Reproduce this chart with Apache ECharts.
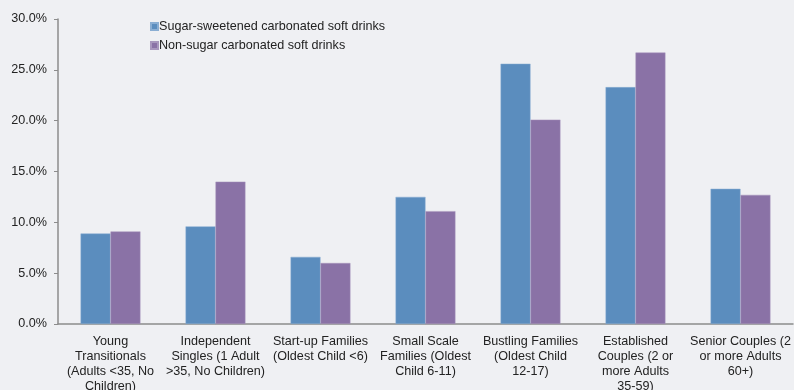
<!DOCTYPE html>
<html><head><meta charset="utf-8">
<script src="https://cdn.jsdelivr.net/npm/echarts@6/dist/echarts.min.js"></script>
<style>html,body{margin:0;padding:0;background:#eff0f3;}#c{width:794px;height:390px;}</style>
</head><body><div id="c"></div>
<script>
var categories = [
  "Young\nTransitionals\n(Adults <35, No\nChildren)",
  "Independent\nSingles (1 Adult\n>35, No Children)",
  "Start-up Families\n(Oldest Child <6)",
  "Small Scale\nFamilies (Oldest\nChild 6-11)",
  "Bustling Families\n(Oldest Child\n12-17)",
  "Established\nCouples (2 or\nmore Adults\n35-59)",
  "Senior Couples (2\nor more Adults\n60+)"
];
var seriesNames = ["Sugar-sweetened carbonated soft drinks", "Non-sugar carbonated soft drinks"];
var sugarValues = [8.9, 9.6, 6.6, 12.5, 25.6, 23.3, 13.3];
var nonSugarValues = [9.1, 14.0, 6.0, 11.1, 20.1, 26.7, 12.7];
var yTicks = [0, 5, 10, 15, 20, 25, 30];

var chart = echarts.init(document.getElementById('c'));
var font = 'Liberation Sans, Arial, sans-serif';
chart.setOption({
  backgroundColor: '#eff0f3',
  animation: false,
  textStyle: {fontFamily: font},
  legend: {
    orient: 'vertical', left: 145, top: 15, itemGap: 6,
    itemWidth: 7, itemHeight: 7, icon: 'rect',
    textStyle: {fontSize: 12.6, color: '#222', fontFamily: font, padding: [0,0,0,-4]},
    data: seriesNames
  },
  grid: {left: 58, right: 1, top: 19, bottom: 66, containLabel: false, outerBoundsMode: 'none'},
  xAxis: {
    type: 'category', data: categories,
    axisLine: {lineStyle: {color: '#8c8c8c', width: 1.5}},
    axisTick: {alignWithLabel: false, length: 4, lineStyle: {color: '#8c8c8c'}},
    axisLabel: {interval: 0, color: '#222', fontSize: 12.6, lineHeight: 15, margin: 10, fontFamily: font}
  },
  yAxis: {
    type: 'value', min: yTicks[0], max: yTicks[yTicks.length-1], interval: 5,
    axisLine: {show: true, lineStyle: {color: '#8c8c8c', width: 1.5}},
    axisTick: {show: true, length: 4, lineStyle: {color: '#8c8c8c'}},
    splitLine: {show: false},
    axisLabel: {color: '#222', fontSize: 12.6, margin: 11, fontFamily: font,
      formatter: function(v){ return v.toFixed(1) + '%'; }}
  },
  series: [
    {name: seriesNames[0], type: 'bar', data: sugarValues, barGap: '0%', barCategoryGap: '43%',
     itemStyle: {color: '#5b8dbe', borderColor: '#8aaed3', borderWidth: 0.5}},
    {name: seriesNames[1], type: 'bar', data: nonSugarValues,
     itemStyle: {color: '#8a72a6', borderColor: '#a897bd', borderWidth: 0.5}}
  ]
});
</script></body></html>
